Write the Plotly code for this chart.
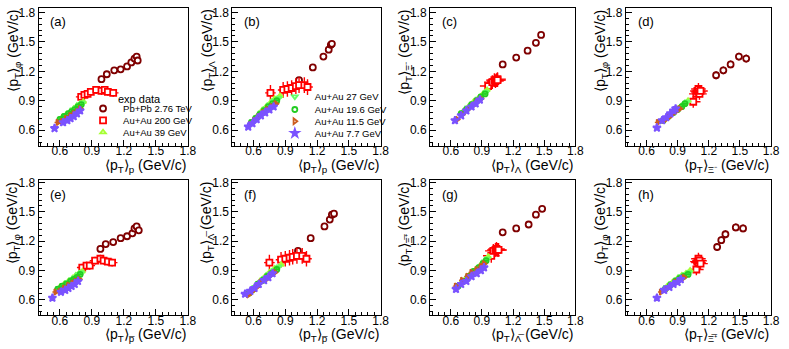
import plotly.graph_objects as go

# panel order: a, b, c, d, e, f, g, h
panel_tags = ["(a)", "(b)", "(c)", "(d)", "(e)", "(f)", "(g)", "(h)"]
x_subs = ["p", "p", "Λ", "Ξ⁻", "p̅", "p̅", "Λ̅", "Ξ̅⁺"]
y_subs = ["φ", "Λ", "Ξ⁻", "φ", "φ", "Λ̅", "Ξ̅⁺", "φ"]

series_names = ["Pb+Pb 2.76 TeV", "Au+Au 200 GeV", "Au+Au 39 GeV", "Au+Au 27 GeV",
                "Au+Au 19.6 GeV", "Au+Au 11.5 GeV", "Au+Au 7.7 GeV"]

# Pb+Pb 2.76 TeV
pbpb_x = [[0.99, 1.04, 1.11, 1.17, 1.23, 1.27, 1.30, 1.32, 1.33],
          [1.03, 1.16, 1.26, 1.31, 1.33, 1.34],
          [1.10, 1.23, 1.34, 1.42, 1.47],
          [1.27, 1.34, 1.41, 1.49, 1.56],
          [0.98, 1.03, 1.10, 1.17, 1.23, 1.28, 1.30, 1.32, 1.34],
          [1.02, 1.14, 1.27, 1.32, 1.34, 1.36],
          [1.10, 1.23, 1.35, 1.42, 1.48],
          [1.28, 1.32, 1.36, 1.46, 1.53]]
pbpb_y = [[1.12, 1.17, 1.21, 1.22, 1.25, 1.29, 1.33, 1.35, 1.31],
          [1.11, 1.24, 1.35, 1.42, 1.47, 1.48],
          [1.27, 1.34, 1.41, 1.49, 1.57],
          [1.16, 1.21, 1.27, 1.35, 1.33],
          [1.12, 1.17, 1.19, 1.23, 1.25, 1.28, 1.33, 1.35, 1.31],
          [1.10, 1.23, 1.35, 1.42, 1.47, 1.48],
          [1.29, 1.33, 1.37, 1.47, 1.53],
          [1.14, 1.21, 1.27, 1.34, 1.33]]
pbpb_ex = [0.015, 0.015, 0.015, 0.02, 0.015, 0.015, 0.015, 0.02]
pbpb_ey = [0.03, 0.02, 0.025, 0.04, 0.03, 0.02, 0.025, 0.04]

# Au+Au 200 GeV
au200_x = [[0.80, 0.83, 0.86, 0.89, 0.94, 0.99, 1.02, 1.05, 1.10],
           [0.76, 0.88, 0.92, 0.96, 1.00, 1.03, 1.08, 1.11],
           [0.96, 1.00, 1.02, 1.03, 1.04, 1.05, 1.05],
           [1.05, 1.08, 1.09, 1.10, 1.10, 1.11, 1.12],
           [0.81, 0.85, 0.88, 0.93, 0.98, 1.01, 1.05, 1.09],
           [0.75, 0.86, 0.90, 0.94, 0.97, 1.01, 1.06, 1.10],
           [0.99, 1.01, 1.03, 1.04, 1.05, 1.06],
           [1.08, 1.09, 1.10, 1.10, 1.11, 1.12]]
au200_y = [[0.94, 0.96, 0.97, 0.99, 1.01, 1.00, 1.01, 0.99, 0.98],
           [0.98, 1.01, 1.02, 1.03, 1.05, 1.06, 1.06, 1.04],
           [1.05, 1.09, 1.11, 1.10, 1.11, 1.12, 1.11],
           [0.89, 0.97, 1.00, 1.02, 0.99, 0.97, 1.00],
           [0.93, 0.95, 0.95, 1.00, 1.02, 1.00, 0.99, 0.98],
           [0.98, 1.01, 1.02, 1.03, 1.04, 1.05, 1.05, 1.02],
           [1.05, 1.10, 1.11, 1.12, 1.11, 1.11],
           [0.91, 0.99, 1.02, 0.98, 1.00, 0.97]]
au200_ex = [0.05, 0.05, 0.08, 0.07, 0.05, 0.05, 0.08, 0.07]
au200_ey = [0.04, 0.08, 0.07, 0.06, 0.04, 0.08, 0.07, 0.06]

# Au+Au 39 GeV
au39_x = [[0.62, 0.66, 0.70, 0.73, 0.76, 0.79, 0.82],
          [0.60, 0.64, 0.68, 0.72, 0.76, 0.80, 0.85],
          [0.72, 0.77, 0.82, 0.87, 0.91, 0.95],
          [0.80, 0.85, 0.89, 0.93, 0.97, 1.00],
          [0.60, 0.64, 0.68, 0.72, 0.75, 0.78, 0.81],
          [0.58, 0.62, 0.66, 0.71, 0.75, 0.80, 0.86],
          [0.69, 0.74, 0.79, 0.84, 0.89, 0.93, 0.96],
          [0.80, 0.85, 0.90, 0.94, 0.98, 1.02]]
au39_y = [[0.73, 0.76, 0.79, 0.82, 0.85, 0.87, 0.89],
          [0.70, 0.75, 0.80, 0.84, 0.88, 0.92, 0.95],
          [0.79, 0.84, 0.89, 0.93, 0.97, 1.01],
          [0.74, 0.78, 0.81, 0.84, 0.87, 0.90],
          [0.73, 0.76, 0.79, 0.82, 0.85, 0.87, 0.89],
          [0.69, 0.74, 0.79, 0.84, 0.88, 0.92, 0.96],
          [0.76, 0.81, 0.86, 0.91, 0.96, 1.00, 1.04],
          [0.74, 0.78, 0.82, 0.85, 0.87, 0.90]]

# Au+Au 27 GeV
au27_x = [[0.61, 0.65, 0.69, 0.72, 0.75, 0.78, 0.81],
          [0.59, 0.63, 0.67, 0.71, 0.75, 0.79, 0.84],
          [0.71, 0.76, 0.81, 0.86, 0.90, 0.94],
          [0.78, 0.83, 0.88, 0.92, 0.96, 0.99],
          [0.59, 0.63, 0.67, 0.71, 0.74, 0.77, 0.80],
          [0.57, 0.61, 0.65, 0.70, 0.74, 0.79, 0.84],
          [0.68, 0.73, 0.78, 0.83, 0.88, 0.92, 0.95],
          [0.79, 0.84, 0.89, 0.93, 0.97, 1.01]]
au27_y = [[0.72, 0.75, 0.78, 0.81, 0.83, 0.86, 0.88],
          [0.69, 0.73, 0.78, 0.82, 0.86, 0.90, 0.93],
          [0.78, 0.83, 0.87, 0.92, 0.95, 0.99],
          [0.72, 0.76, 0.80, 0.83, 0.86, 0.89],
          [0.72, 0.75, 0.78, 0.81, 0.83, 0.86, 0.88],
          [0.68, 0.73, 0.77, 0.82, 0.86, 0.90, 0.94],
          [0.75, 0.80, 0.85, 0.90, 0.94, 0.99, 1.02],
          [0.73, 0.77, 0.81, 0.84, 0.86, 0.88]]

# Au+Au 19.6 GeV
au19_x = [[0.60, 0.64, 0.68, 0.71, 0.74, 0.77, 0.80],
          [0.58, 0.62, 0.66, 0.70, 0.74, 0.78, 0.82],
          [0.70, 0.75, 0.80, 0.85, 0.89, 0.93],
          [0.76, 0.81, 0.86, 0.90, 0.94, 0.97],
          [0.58, 0.62, 0.66, 0.70, 0.73, 0.76, 0.79],
          [0.56, 0.60, 0.64, 0.69, 0.73, 0.77, 0.82],
          [0.67, 0.72, 0.77, 0.82, 0.87, 0.91, 0.94],
          [0.78, 0.83, 0.88, 0.92, 0.96, 1.00]]
au19_y = [[0.71, 0.74, 0.77, 0.79, 0.81, 0.84, 0.86],
          [0.68, 0.72, 0.76, 0.80, 0.84, 0.87, 0.90],
          [0.77, 0.81, 0.86, 0.90, 0.94, 0.97],
          [0.70, 0.74, 0.78, 0.81, 0.84, 0.87],
          [0.71, 0.74, 0.76, 0.79, 0.81, 0.83, 0.86],
          [0.67, 0.71, 0.76, 0.80, 0.84, 0.87, 0.91],
          [0.74, 0.79, 0.84, 0.89, 0.93, 0.97, 1.00],
          [0.71, 0.75, 0.79, 0.82, 0.84, 0.86]]

# Au+Au 11.5 GeV
au11_x = [[0.58, 0.62, 0.66, 0.70, 0.73, 0.76, 0.79],
          [0.57, 0.61, 0.65, 0.69, 0.73, 0.77, 0.81],
          [0.66, 0.71, 0.76, 0.81, 0.85, 0.89],
          [0.71, 0.77, 0.81, 0.85, 0.88, 0.92],
          [0.56, 0.60, 0.64, 0.68, 0.72, 0.75, 0.78],
          [0.55, 0.59, 0.63, 0.67, 0.72, 0.76, 0.80],
          [0.65, 0.71, 0.76, 0.80, 0.85, 0.89, 0.92],
          [0.74, 0.79, 0.84, 0.88, 0.92, 0.96]]
au11_y = [[0.68, 0.69, 0.72, 0.75, 0.77, 0.79, 0.82],
          [0.66, 0.70, 0.74, 0.78, 0.81, 0.84, 0.87],
          [0.71, 0.76, 0.81, 0.85, 0.89, 0.92],
          [0.68, 0.70, 0.73, 0.77, 0.79, 0.82],
          [0.68, 0.69, 0.72, 0.75, 0.77, 0.79, 0.81],
          [0.65, 0.69, 0.73, 0.78, 0.81, 0.85, 0.88],
          [0.74, 0.80, 0.84, 0.88, 0.91, 0.94, 0.97],
          [0.68, 0.71, 0.75, 0.78, 0.80, 0.83]]

# Au+Au 7.7 GeV
au7_x = [[0.55, 0.63, 0.67, 0.70, 0.73, 0.76, 0.79],
         [0.55, 0.59, 0.63, 0.67, 0.71, 0.75, 0.79],
         [0.64, 0.70, 0.75, 0.80, 0.84, 0.88],
         [0.70, 0.75, 0.79, 0.83, 0.86, 0.88],
         [0.53, 0.61, 0.65, 0.68, 0.71, 0.74, 0.77],
         [0.52, 0.57, 0.61, 0.65, 0.70, 0.74, 0.78],
         [0.65, 0.70, 0.75, 0.80, 0.85, 0.89, 0.92],
         [0.70, 0.77, 0.82, 0.86, 0.90, 0.93]]
au7_y = [[0.62, 0.68, 0.70, 0.72, 0.74, 0.77, 0.80],
         [0.635, 0.67, 0.71, 0.75, 0.78, 0.81, 0.84],
         [0.70, 0.75, 0.80, 0.84, 0.87, 0.91],
         [0.625, 0.70, 0.73, 0.77, 0.80, 0.82],
         [0.62, 0.68, 0.70, 0.72, 0.74, 0.76, 0.79],
         [0.66, 0.69, 0.72, 0.76, 0.80, 0.83, 0.87],
         [0.71, 0.76, 0.79, 0.84, 0.87, 0.90, 0.93],
         [0.62, 0.70, 0.73, 0.76, 0.78, 0.81]]

bes_ex = 0.03
bes_ey = 0.015

colors = ["#7f0000", "#ff0000", "#a6ff33", "#66ff66", "#22cc22", "#cc5c1f", "#7a52ff"]
symbols = ["circle", "square", "triangle-up-open", "triangle-down-open",
           "circle-open", "triangle-right-open", "star"]
fills = ["white", "white", None, None, None, None, None]
sizes = [6, 6, 5, 5, 5, 5, 6]

xs = [pbpb_x, au200_x, au39_x, au27_x, au19_x, au11_x, au7_x]
ys = [pbpb_y, au200_y, au39_y, au27_y, au19_y, au11_y, au7_y]

W, H = 789, 349
col_px = [(39, 190), (235, 385), (435, 582), (633, 780)]
row_px = [(3, 143), (178, 315)]
y_ranges = [[0.44, 1.845], [0.44, 1.82]]

# legend rows (px): left edge of legend box, row centre
legend_pos = [(84, 105), (84, 117), (84, 129), (278, 93), (278, 106), (278, 118), (278, 130)]

FONT = "Liberation Sans, Arial, sans-serif"


def px(xp):
    return xp / W


def py(yp):
    return 1 - yp / H


fig = go.Figure()

for p in range(8):
    r, c = divmod(p, 4)
    n = p + 1
    xa = "x" if n == 1 else "x%d" % n
    ya = "y" if n == 1 else "y%d" % n
    for s in range(7):
        if s == 0:
            ex, ey = pbpb_ex[p], pbpb_ey[p]
        elif s == 1:
            ex, ey = au200_ex[p], au200_ey[p]
        else:
            ex, ey = bes_ex, bes_ey
        fig.add_trace(go.Scatter(
            x=xs[s][p], y=ys[s][p], mode="markers", xaxis=xa, yaxis=ya,
            name=series_names[s], legend="legend" if s == 0 else "legend%d" % (s + 1),
            showlegend=(p == 0),
            marker=dict(symbol=symbols[s], color=fills[s] or colors[s], size=sizes[s],
                        line=dict(width=1.8, color=colors[s])),
            error_x=dict(type="constant", value=ex, color=colors[s], thickness=1.4, width=0),
            error_y=dict(type="constant", value=ey, color=colors[s], thickness=1.4, width=0),
        ))

    x0, x1 = col_px[c]
    y0, y1 = row_px[r]
    axis_common = dict(showline=True, linecolor="black", linewidth=1, mirror=True,
                       ticks="inside", ticklen=6, tickcolor="black", showgrid=False,
                       zeroline=False, dtick=0.3, tick0=0,
                       tickfont=dict(family=FONT, size=12, color="black"),
                       minor=dict(ticks="inside", ticklen=3, dtick=0.06, tickcolor="black"))
    fig.update_layout(**{
        ("xaxis" if n == 1 else "xaxis%d" % n): dict(
            domain=[px(x0), px(x1)], anchor=ya, range=[0.4, 1.8],
            ticklabelstandoff=-6, **axis_common),
        ("yaxis" if n == 1 else "yaxis%d" % n): dict(
            domain=[py(y1), py(y0)], anchor=xa, range=y_ranges[r], **axis_common),
    })

    # panel tag
    fig.add_annotation(text=panel_tags[p], xref="paper", yref="paper",
                       x=px(x0 + 10), y=py(y0 + 14), xanchor="left", yanchor="middle",
                       showarrow=False, font=dict(family=FONT, size=13, color="black"))
    # x title, right aligned at frame edge
    fig.add_annotation(text="⟨p<sub>T</sub>⟩<sub>%s</sub> (GeV/c)" % x_subs[p],
                       xref="paper", yref="paper", x=px(x1), y=py(y1 + 20),
                       xanchor="right", yanchor="middle", showarrow=False,
                       font=dict(family=FONT, size=14, color="black"))
    # y title, top aligned at frame edge
    fig.add_annotation(text="⟨p<sub>T</sub>⟩<sub>%s</sub> (GeV/c)" % y_subs[p],
                       xref="paper", yref="paper", x=px(x0 - 25), y=py(y0),
                       xanchor="center", yanchor="top", textangle=-90, showarrow=False,
                       font=dict(family=FONT, size=14, color="black"))

fig.add_annotation(text="exp data", xref="paper", yref="paper", x=px(117), y=py(95),
                   xanchor="left", yanchor="middle", showarrow=False,
                   font=dict(family=FONT, size=11, color="black"))

legends = {}
for s in range(7):
    lx, ly = legend_pos[s]
    legends["legend" if s == 0 else "legend%d" % (s + 1)] = dict(
        x=px(lx), y=py(ly), xanchor="left", yanchor="middle",
        bgcolor="rgba(0,0,0,0)", borderwidth=0, itemwidth=30,
        font=dict(family=FONT, size=9.5, color="black"))

fig.update_layout(
    width=W, height=H, margin=dict(l=0, r=0, t=0, b=0),
    plot_bgcolor="white", paper_bgcolor="white", **legends,
)

# drop the default 8px body margin so the figure fills the window exactly
fig.write_html("out.html", config={"displayModeBar": False},
               post_script="document.body.style.margin='0';")
